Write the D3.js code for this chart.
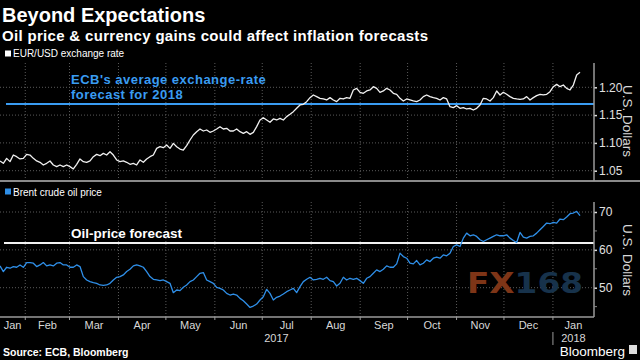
<!DOCTYPE html>
<html><head><meta charset="utf-8">
<script src="https://cdn.jsdelivr.net/npm/d3@7/dist/d3.min.js"></script>
<style>body{margin:0;background:#000}svg{display:block}</style>
</head><body><svg id="c" width="640" height="360"></svg>
<script>
// ---------- data ----------
const seriesStart = Date.UTC(2017, 0, 16);
const sampleStepDays = 2.11;
const eurusd = [
1.0675,1.0633,1.0722,1.0663,1.0782,1.0752,1.0711,1.0722,1.0794,1.0782,
1.0722,1.0675,1.0651,1.0603,1.0633,1.0675,1.0603,1.0573,1.0603,1.0573,
1.0603,1.0573,1.0531,1.0615,1.0711,1.0663,1.0651,1.0675,1.0752,1.0794,
1.0770,1.0812,1.0782,1.0842,1.0782,1.0693,1.0663,1.0675,1.0651,1.0615,
1.0633,1.0603,1.0693,1.0651,1.0711,1.0752,1.0782,1.0902,1.0932,1.0914,
1.0962,1.0902,1.0992,1.0932,1.0890,1.0872,1.0950,1.1052,1.1142,1.1202,
1.1250,1.1214,1.1232,1.1190,1.1214,1.1250,1.1292,1.1250,1.1262,1.1214,
1.1214,1.1250,1.1202,1.1172,1.1202,1.1154,1.1190,1.1292,1.1412,1.1454,
1.1412,1.1370,1.1430,1.1412,1.1442,1.1412,1.1472,1.1514,1.1562,1.1622,
1.1682,1.1694,1.1742,1.1814,1.1862,1.1832,1.1802,
1.1790,1.1772,1.1814,1.1772,1.1742,1.1802,1.1790,1.1814,1.1802,1.1952,
1.1981,1.1910,1.1892,1.1934,1.1952,1.2011,1.1981,1.1910,1.1934,1.1981,
1.1952,1.1892,1.1874,1.1802,1.1754,1.1790,1.1772,1.1754,1.1742,1.1772,
1.1832,1.1862,1.1832,1.1814,1.1802,1.1772,1.1814,1.1790,1.1652,1.1634,
1.1670,1.1622,1.1634,1.1610,1.1622,1.1592,1.1622,1.1682,1.1802,1.1790,
1.1754,1.1814,1.1934,1.1862,1.1910,1.1874,1.1832,1.1802,1.1790,1.1784,
1.1790,1.1832,1.1772,1.1814,1.1850,1.1874,1.1862,1.1874,1.1922,1.2011,
1.2053,1.2011,1.2041,1.1981,1.1952,1.2041,1.2221,1.2269
];
const brent = [
55.76,54.26,55.40,55.14,55.58,55.40,56.02,55.40,56.64,56.64,
56.47,55.58,56.02,56.64,55.76,56.02,55.76,56.47,56.64,56.02,
56.02,55.40,55.40,56.02,55.58,52.93,52.04,51.60,51.34,51.16,
50.72,50.63,50.72,51.16,52.04,52.75,52.93,53.37,54.26,54.87,
55.76,56.02,55.76,55.40,54.26,52.93,52.22,52.04,51.87,52.04,
51.60,51.16,48.69,49.39,49.22,50.10,50.72,51.60,52.04,52.93,
53.81,53.99,52.04,51.60,51.16,50.10,49.83,49.39,48.51,48.07,
48.33,48.07,47.18,46.56,45.68,44.79,45.15,45.68,46.74,47.62,
49.57,48.51,46.74,47.45,47.80,48.33,48.95,49.39,49.83,48.69,
50.28,51.60,52.22,52.75,52.04,52.22,52.49,
52.22,52.75,51.87,51.60,50.45,51.16,52.75,52.04,52.49,52.22,
52.49,51.87,51.16,52.49,52.93,53.81,54.70,54.26,54.87,55.76,
55.40,55.40,56.29,59.12,58.23,57.79,56.47,56.29,57.17,56.02,
56.47,57.35,56.91,57.79,58.06,57.79,58.68,58.41,59.12,60.89,
61.33,60.89,63.10,64.42,63.72,63.98,63.54,62.66,62.21,62.66,
63.10,63.54,63.98,63.72,63.72,63.98,63.10,62.48,61.95,64.60,
63.36,63.10,63.54,63.72,64.42,65.31,66.19,67.08,66.90,67.25,
67.08,68.14,67.96,68.67,69.55,69.73,70.17,69.02
];
const ecbForecast = 1.17;
const oilForecast = 61.8;
const eurTicks = [1.05, 1.10, 1.15, 1.20];
const brentTicks = [50, 60, 70];
const brentMinorTicks = [45, 55, 65];
const monthLabels = ["Jan","Feb","Mar","Apr","May","Jun","Jul","Aug","Sep","Oct","Nov","Dec","Jan"];
const yearLabels = ["2017", "2018"];
const texts = {
  title: "Beyond Expectations",
  subtitle: "Oil price & currency gains could affect inflation forecasts",
  legend1: "EUR/USD exchange rate",
  legend2: "Brent crude oil price",
  ecbNote: ["ECB's average exchange-rate", "forecast for 2018"],
  oilNote: "Oil-price forecast",
  unit: "U.S. Dollars",
  source: "Source: ECB, Bloomberg",
  brand: "Bloomberg"
};

// ---------- layout ----------
const svg = d3.select("#c");
svg.append("rect").attr("width", 640).attr("height", 360).attr("fill", "#000");
const F = "'Liberation Sans', Arial, sans-serif";
const axisX = 594;
const top1 = 63, bot1 = 181, top2 = 202, bot2 = 317;

const x = d3.scaleUtc()
  .domain([new Date(Date.UTC(2017, 0, 16)), new Date(Date.UTC(2018, 0, 27))])
  .range([0, axisX]);
const y1 = d3.scaleLinear().domain([1.05, 1.20]).range([170.7, 87.3]);
const y2 = d3.scaleLinear().domain([50, 70]).range([287.7, 212]);

const dateAt = i => new Date(seriesStart + i * sampleStepDays * 864e5);
const eurData = eurusd.map((v, i) => ({ d: dateAt(i), v }));
const brentData = brent.map((v, i) => ({ d: dateAt(i), v }));

// titles
svg.append("text").attr("x", 2).attr("y", 22).attr("font-family", F).attr("font-weight", "bold")
  .attr("font-size", 20).attr("fill", "#fff").text(texts.title);
svg.append("text").attr("x", 2).attr("y", 41).attr("font-family", F).attr("font-weight", "bold")
  .attr("font-size", 15).attr("fill", "#fff")
  .attr("textLength", 426).attr("lengthAdjust", "spacing").text(texts.subtitle);

// legends
svg.append("rect").attr("x", 5).attr("y", 50.5).attr("width", 6).attr("height", 6).attr("fill", "#fff");
svg.append("text").attr("x", 13).attr("y", 57).attr("font-family", F).attr("font-size", 10)
  .attr("fill", "#fff").text(texts.legend1);
svg.append("rect").attr("x", 5).attr("y", 188.5).attr("width", 6).attr("height", 6).attr("fill", "#2f8fe8");
svg.append("text").attr("x", 13).attr("y", 195.5).attr("font-family", F).attr("font-size", 10)
  .attr("fill", "#fff").text(texts.legend2);

// month boundaries
const bounds = d3.utcMonth.range(new Date(Date.UTC(2017, 1, 1)), new Date(Date.UTC(2018, 1, 1)));
const gridColor = "#5a5a5a";

function panelGrid(yScale, ticks, yTop, yBot) {
  const g = svg.append("g");
  g.selectAll(".h").data(ticks).join("line")
    .attr("x1", 0).attr("x2", axisX)
    .attr("y1", d => yScale(d)).attr("y2", d => yScale(d))
    .attr("stroke", gridColor).attr("stroke-width", 1).attr("stroke-dasharray", "1,2");
  g.selectAll(".v").data(bounds).join("line")
    .attr("x1", d => x(d)).attr("x2", d => x(d))
    .attr("y1", yTop).attr("y2", yBot)
    .attr("stroke", gridColor).attr("stroke-width", 1).attr("stroke-dasharray", "1,2");
}
panelGrid(y1, eurTicks, top1, bot1);
panelGrid(y2, brentTicks, top2, bot2);

// watermark
const wm = svg.append("text").attr("x", 467).attr("y", 293).attr("font-family", "'DejaVu Sans', sans-serif")
  .attr("font-weight", "bold").attr("font-size", 28);
wm.append("tspan").attr("fill", "#7e3517").text("FX");
wm.append("tspan").attr("fill", "#17324b").text("168");
wm.attr("textLength", 116).attr("lengthAdjust", "spacingAndGlyphs");

// forecast lines
svg.append("line").attr("x1", 6).attr("x2", axisX).attr("y1", y1(ecbForecast)).attr("y2", y1(ecbForecast))
  .attr("stroke", "#3a9cf2").attr("stroke-width", 2);
svg.append("line").attr("x1", 4).attr("x2", axisX).attr("y1", y2(oilForecast)).attr("y2", y2(oilForecast))
  .attr("stroke", "#f2f2f2").attr("stroke-width", 2);

// series
const line1 = d3.line().x(d => x(d.d)).y(d => y1(d.v)).curve(d3.curveLinear);
const line2 = d3.line().x(d => x(d.d)).y(d => y2(d.v)).curve(d3.curveLinear);
svg.append("path").datum(eurData).attr("d", line1).attr("fill", "none")
  .attr("stroke", "#f0f0f0").attr("stroke-width", 1.3).attr("stroke-linejoin", "round");
svg.append("path").datum(brentData).attr("d", line2).attr("fill", "none")
  .attr("stroke", "#2f8fe8").attr("stroke-width", 1.3).attr("stroke-linejoin", "round");

// annotations
svg.append("text").attr("x", 71).attr("y", 84).attr("font-family", F).attr("font-weight", "bold")
  .attr("font-size", 13).attr("letter-spacing", 0.48).attr("fill", "#3a9cf2").text(texts.ecbNote[0]);
svg.append("text").attr("x", 71).attr("y", 99).attr("font-family", F).attr("font-weight", "bold")
  .attr("font-size", 13).attr("letter-spacing", 0.48).attr("fill", "#3a9cf2").text(texts.ecbNote[1]);
svg.append("text").attr("x", 71).attr("y", 238).attr("font-family", F).attr("font-weight", "bold")
  .attr("font-size", 13.5).attr("fill", "#fff").text(texts.oilNote);

// panel separator
svg.append("line").attr("x1", 0).attr("x2", 640).attr("y1", bot1).attr("y2", bot1)
  .attr("stroke", "#8a8a8a").attr("stroke-width", 2);

// right axes
const axisColor = "#9a9a9a";
function rightAxis(yScale, ticks, fmt, yTop, yBot, minor) {
  const g = svg.append("g").attr("transform", `translate(${axisX},0)`);
  const ax = d3.axisRight(yScale).tickValues(ticks).tickFormat(fmt).tickSize(3).tickPadding(2);
  g.call(ax);
  g.select(".domain").remove();
  g.selectAll(".tick line").attr("stroke", "#ddd").attr("stroke-width", 1.5);
  g.selectAll(".tick text").attr("font-family", F).attr("font-size", 12).attr("fill", "#e0e0e0");
  g.append("line").attr("x1", 0).attr("x2", 0).attr("y1", yTop).attr("y2", yBot)
    .attr("stroke", axisColor).attr("stroke-width", 1.5);
  if (minor) {
    g.selectAll(".minor").data(minor).join("line").attr("x1", 0).attr("x2", 3)
      .attr("y1", d => yScale(d)).attr("y2", d => yScale(d)).attr("stroke", "#888").attr("stroke-width", 1);
  }
}
rightAxis(y1, eurTicks, d3.format(".2f"), top1, bot1, null);
rightAxis(y2, brentTicks, d3.format("d"), top2, bot2, brentMinorTicks);

// unit labels
[[121, texts.unit], [260, texts.unit]].forEach(([cy, t]) => {
  svg.append("text").attr("transform", `translate(628,${cy}) rotate(90)`)
    .attr("text-anchor", "middle").attr("dy", "0.35em").attr("font-family", F)
    .attr("font-size", 13.5).attr("fill", "#d8d8d8").text(t);
});

// bottom time axis
svg.append("line").attr("x1", 0).attr("x2", axisX).attr("y1", bot2).attr("y2", bot2)
  .attr("stroke", axisColor).attr("stroke-width", 1.5);
svg.selectAll(".mt").data(bounds).join("line")
  .attr("x1", d => x(d)).attr("x2", d => x(d)).attr("y1", bot2).attr("y2", bot2 + 3)
  .attr("stroke", axisColor).attr("stroke-width", 1);
const [d0, d1] = x.domain();
const months = d3.utcMonth.range(new Date(Date.UTC(2017, 0, 1)), new Date(Date.UTC(2018, 1, 1)));
svg.selectAll(".ml").data(months).join("text")
  .attr("x", d => {
    const a = d < d0 ? d0 : d;
    const nxt = d3.utcMonth.offset(d, 1);
    const b = nxt > d1 ? d1 : nxt;
    return (x(a) + x(b)) / 2;
  })
  .attr("y", 329).attr("text-anchor", "middle").attr("font-family", F).attr("font-size", 11)
  .attr("fill", "#d8d8d8").text((d, i) => monthLabels[i]);
const yearBreak = new Date(Date.UTC(2018, 0, 1));
svg.append("text").attr("x", (x(d0) + x(yearBreak)) / 2).attr("y", 342).attr("text-anchor", "middle")
  .attr("font-family", F).attr("font-size", 11).attr("fill", "#d8d8d8").text(yearLabels[0]);
svg.append("text").attr("x", (x(yearBreak) + x(d1)) / 2).attr("y", 342).attr("text-anchor", "middle")
  .attr("font-family", F).attr("font-size", 11).attr("fill", "#d8d8d8").text(yearLabels[1]);
svg.append("line").attr("x1", x(yearBreak)).attr("x2", x(yearBreak)).attr("y1", 332).attr("y2", 345)
  .attr("stroke", axisColor).attr("stroke-width", 1);

// footer
svg.append("text").attr("x", 3).attr("y", 356).attr("font-family", F).attr("font-weight", "bold")
  .attr("font-size", 10.5).attr("fill", "#fff").text(texts.source);
svg.append("text").attr("x", 625).attr("y", 356).attr("text-anchor", "end").attr("font-family", F)
  .attr("font-size", 13.5).attr("fill", "#fff").text(texts.brand);
svg.append("rect").attr("x", 629).attr("y", 345).attr("width", 8).attr("height", 9).attr("fill", "#ddd");
</script></body></html>
